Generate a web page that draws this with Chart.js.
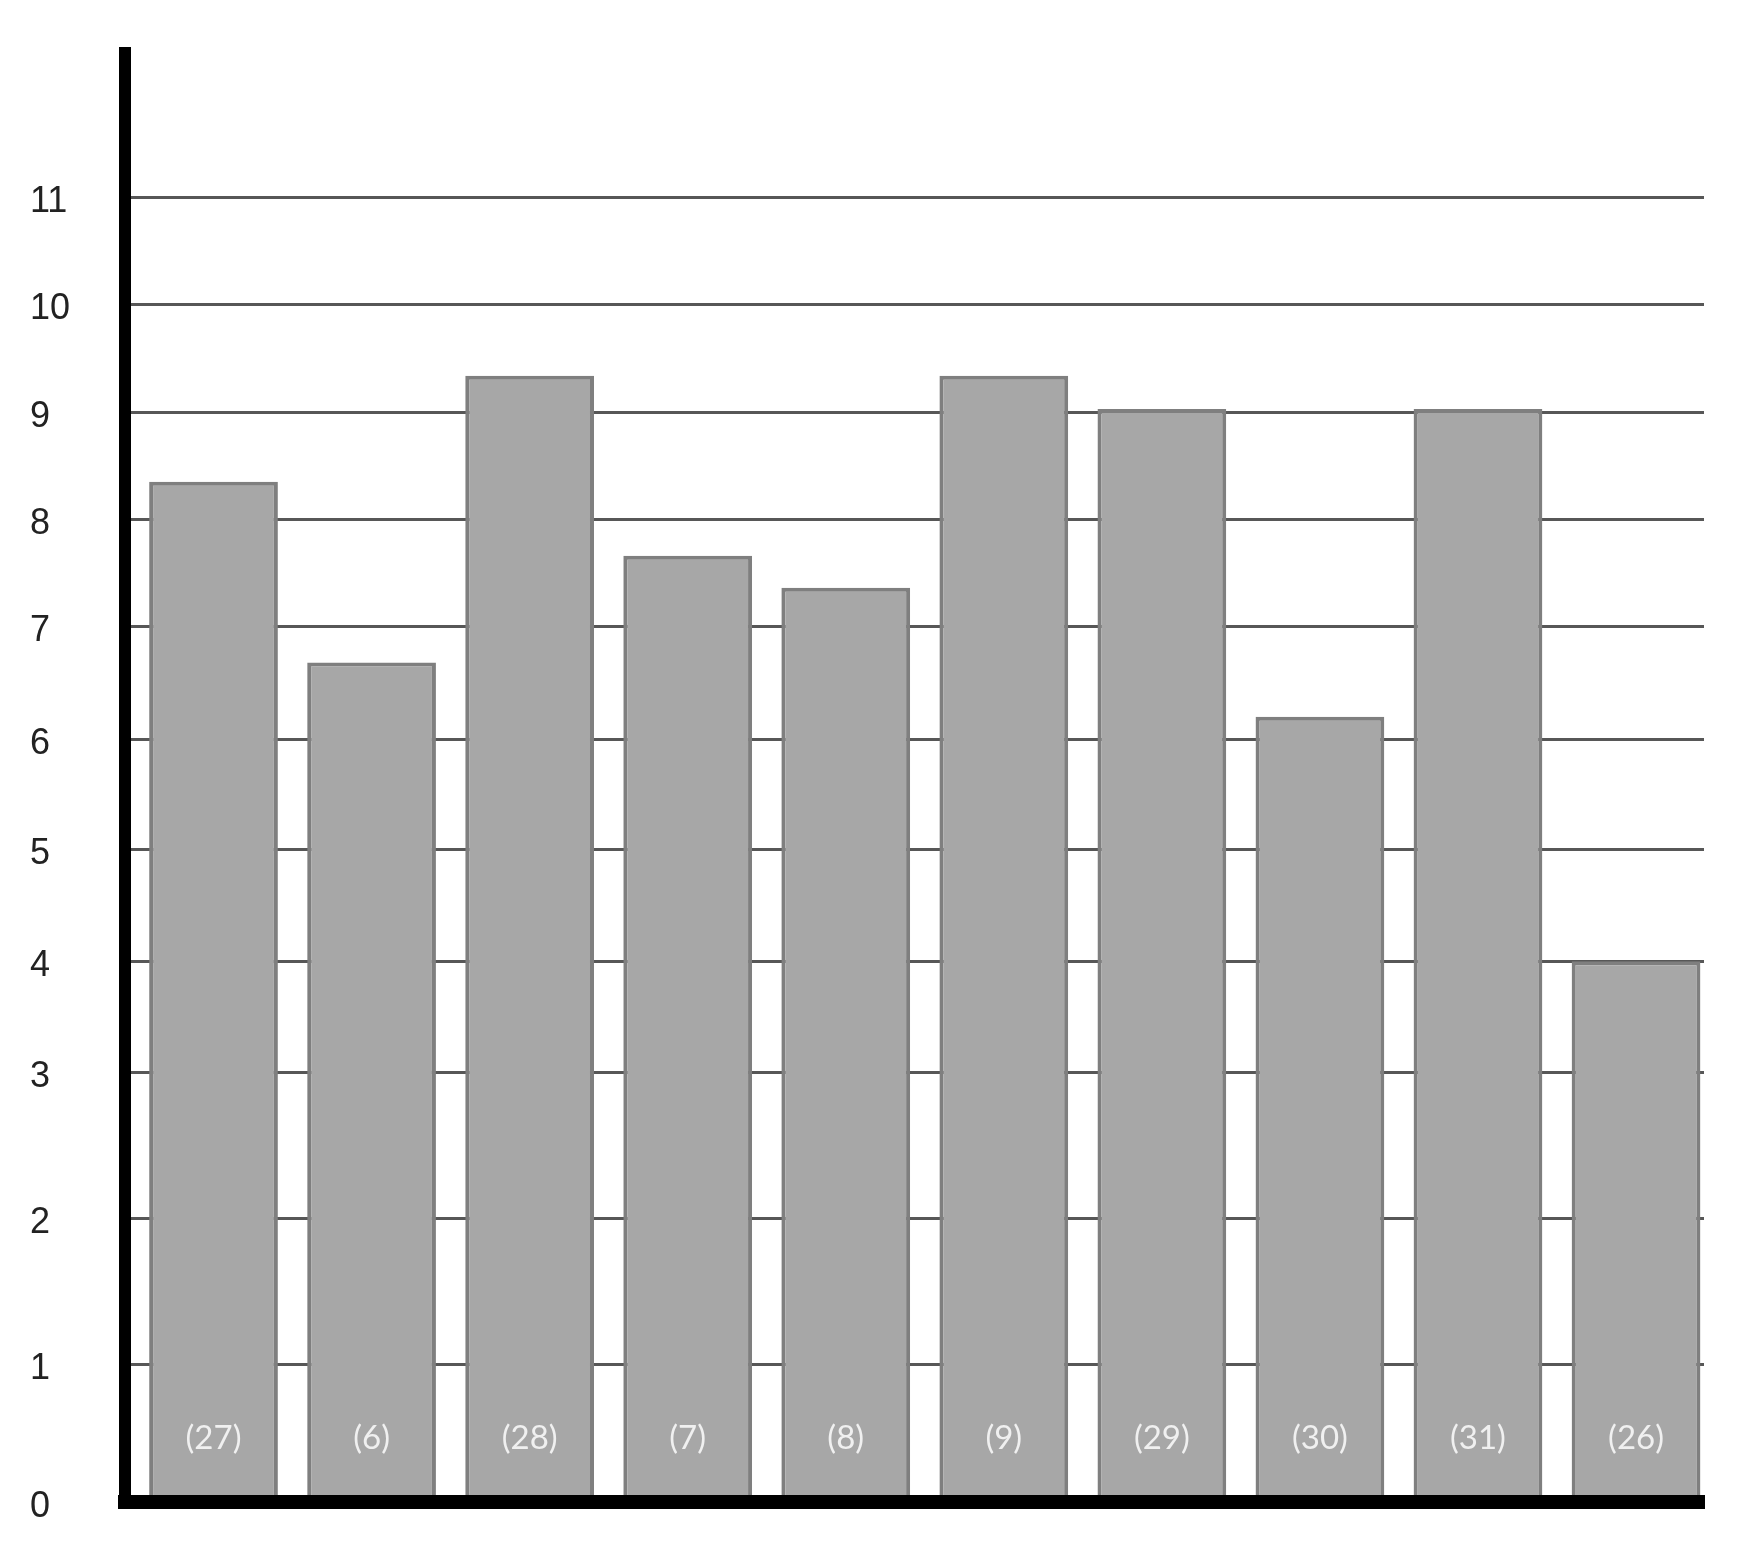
<!DOCTYPE html>
<html>
<head>
<meta charset="utf-8">
<script src="https://cdn.jsdelivr.net/npm/chart.js@4.4.1/dist/chart.umd.min.js"></script>
<style>
  html, body { margin: 0; padding: 0; background: #ffffff; }
  canvas { display: block; }
</style>
</head>
<body>
<canvas id="chart" width="1755" height="1561"></canvas>
<script>
const sampleLabels = ["(27)", "(6)", "(28)", "(7)", "(8)", "(9)", "(29)", "(30)", "(31)", "(26)"];
const barValues = [8.35, 6.68, 9.34, 7.66, 7.36, 9.34, 9.03, 6.2, 9.03, 4.0];
const yTicks = [0, 1, 2, 3, 4, 5, 6, 7, 8, 9, 10, 11];

// the original axis is drawn by hand: the lower steps are taller than the upper ones
const yStepWeights = [138, 146, 146, 111, 112, 110, 113, 107, 107, 108, 107, 107, 107];

class StretchedLinearScale extends Chart.LinearScale {
    static id = "stretchedLinear";

    _fraction(v) {
        let acc = 0, total = 0;
        for (let i = 0; i < Math.ceil(this.max); i++) {
            const w = yStepWeights[Math.min(i, yStepWeights.length - 1)];
            total += w * Math.min(1, this.max - i);
            if (v > i) acc += w * Math.min(1, v - i);
        }
        return acc / total;
    }

    getPixelForValue(value) {
        if (value === null || isNaN(value)) return NaN;
        return this.getPixelForDecimal(this._fraction(value));
    }
}
Chart.register(StretchedLinearScale);

Chart.defaults.font.family = "'Liberation Sans', sans-serif";

const barLabels = {
    id: "barLabels",
    afterDatasetsDraw(chart) {
        const ctx = chart.ctx;
        const meta = chart.getDatasetMeta(0);
        const base = chart.scales.y.getPixelForValue(0);
        ctx.save();
        ctx.font = "33px Lato";
        ctx.fillStyle = "#f0f0f0";
        ctx.textAlign = "center";
        ctx.textBaseline = "middle";
        meta.data.forEach((bar, i) => {
            ctx.fillText(sampleLabels[i], bar.x, base - 64);
        });
        ctx.restore();
    }
};

const ctx = document.getElementById("chart");

new Chart(ctx, {
    type: "bar",
    data: {
        datasets: [{
            data: barValues.map((v, i) => ({ x: i, y: v })),
            backgroundColor: "#a7a7a7",
            borderColor: "#7f7f7f",
            borderWidth: 4,
            categoryPercentage: 0.9,
            barPercentage: 0.905
        }]
    },
    options: {
        responsive: false,
        animation: false,
        events: [],
        layout: { padding: { left: 30, top: 53, right: 51, bottom: 59 } },
        plugins: {
            legend: { display: false },
            tooltip: { enabled: false }
        },
        scales: {
            x: {
                type: "linear",
                offset: false,
                min: -0.56,
                max: 9.43,
                afterBuildTicks: (s) => { s.ticks = sampleLabels.map((_, i) => ({ value: i })); },
                ticks: { display: false },
                grid: { drawOnChartArea: false, drawTicks: false },
                border: { display: true, color: "#000000", width: 14, z: 1 }
            },
            y: {
                type: "stretchedLinear",
                min: 0,
                max: 12.35,
                afterBuildTicks: (s) => { s.ticks = yTicks.map(v => ({ value: v })); },
                afterFit: (s) => { s.width = 95; },
                ticks: {
                    crossAlign: "far",
                    labelOffset: 5,
                    color: "#222222",
                    font: { size: 36 },
                    callback: (v) => String(v)
                },
                grid: { color: "#575757", lineWidth: 3, drawTicks: false },
                border: { display: true, color: "#000000", width: 12, z: 1 }
            }
        }
    },
    plugins: [barLabels]
});
</script>
</body>
</html>
